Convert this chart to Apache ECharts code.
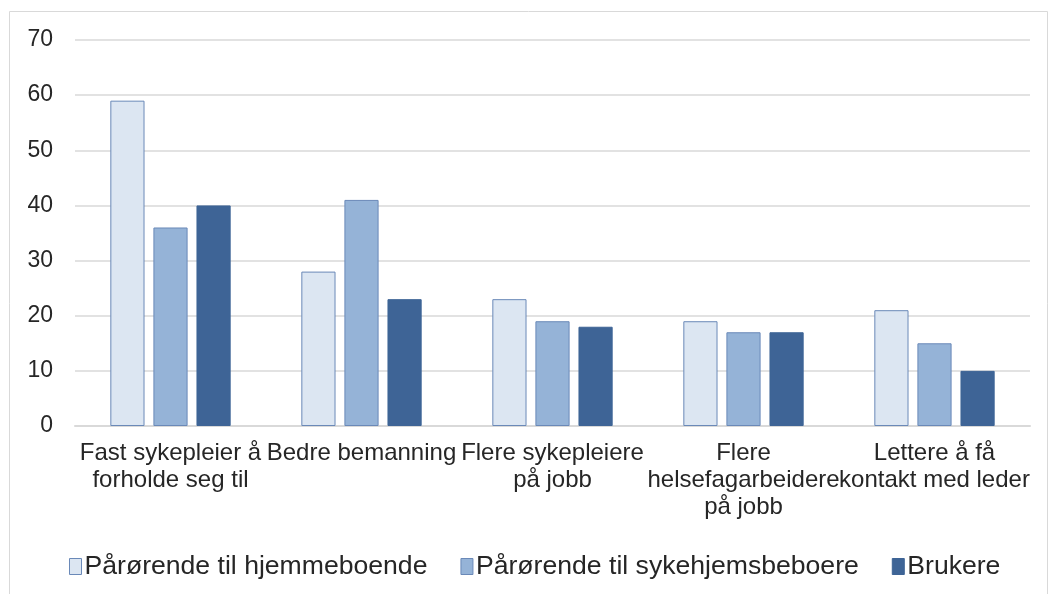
<!DOCTYPE html>
<html><head><meta charset="utf-8">
<script src="https://cdn.jsdelivr.net/npm/echarts@6/dist/echarts.min.js"></script>
<style>html,body{margin:0;padding:0;background:#fff}#c{width:1056px;height:594px}</style>
</head><body><div id="c"></div>
<script>
const categories = ['Fast sykepleier å\nforholde seg til', 'Bedre bemanning', 'Flere sykepleiere\npå jobb', 'Flere\nhelsefagarbeidere\npå jobb', 'Lettere å få\nkontakt med leder'];
const seriesNames = ['Pårørende til hjemmeboende', 'Pårørende til sykehjemsbeboere', 'Brukere'];
const hjemmeboende = [59, 28, 23, 19, 21];
const sykehjem = [36, 41, 19, 17, 15];
const brukere = [40, 23, 18, 17, 10];
const yTicks = [0, 10, 20, 30, 40, 50, 60, 70];

const colors = ['#dce6f2', '#95b3d7', '#3e6496'];
const borders = ['#6a89b8', '#6a89b8', '#3e6496'];
const font = '"Liberation Sans", Arial, sans-serif';
const chart = echarts.init(document.getElementById('c'));
const data = [hjemmeboende, sykehjem, brukere];
chart.setOption({
  animation: false,
  graphic: [{type: 'rect', shape: {x: 9.5, y: 11.5, width: 1038, height: 600}, style: {fill: 'none', stroke: '#d9d9d9', lineWidth: 1}, z: -10}],
  grid: {left: 75, right: 26, top: 40, bottom: 168},
  legend: {
    left: 64, top: 548, itemWidth: 12, itemHeight: 16, itemGap: 33, icon: 'rect',
    textStyle: {fontFamily: font, fontSize: 26.6, color: '#262626', padding: [0, 0, 0, -2]},
    data: seriesNames.map((n, i) => ({name: n, itemStyle: {color: colors[i], borderColor: borders[i], borderWidth: 1}}))
  },
  xAxis: {
    type: 'category', data: categories,
    axisLine: {lineStyle: {color: '#d9d9d9', width: 2}},
    axisTick: {show: false},
    axisLabel: {fontFamily: font, fontSize: 24, color: '#262626', lineHeight: 27, margin: 14, interval: 0}
  },
  yAxis: {
    type: 'value', min: 0, max: 70, interval: 10,
    axisLine: {show: false}, axisTick: {show: false},
    splitLine: {lineStyle: {color: '#d9d9d9', width: 1.5}},
    axisLabel: {fontFamily: font, fontSize: 23, color: '#262626', margin: 22, formatter: v => yTicks.includes(v) ? String(v) : ''}
  },
  series: data.map((d, i) => ({
    name: seriesNames[i], type: 'bar', data: d,
    barGap: '26%', barCategoryGap: '37%',
    itemStyle: {color: colors[i], borderColor: borders[i], borderWidth: 1}
  }))
});
</script></body></html>
